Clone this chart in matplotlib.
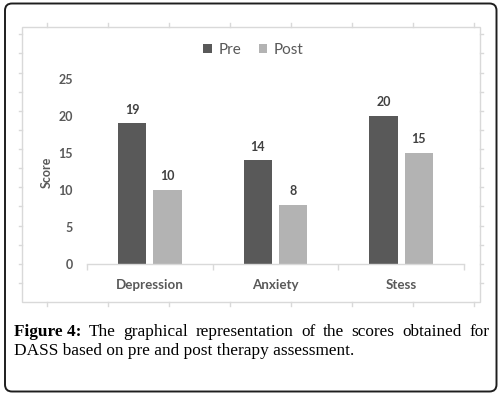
import matplotlib
matplotlib.use("Agg")
import matplotlib.pyplot as plt
import numpy as np
from matplotlib.patches import FancyBboxPatch, Rectangle

# ---- data ----
categories = ["Depression", "Anxiety", "Stess"]
pre = [19, 14, 20]
post = [10, 8, 15]
series_names = ["Pre", "Post"]
yticks = [0, 5, 10, 15, 20, 25]
ylabel = "Score"
caption_bold = "Figure 4:"
caption_line1 = "The graphical representation of the scores obtained for"
caption_line2 = "DASS based on pre and post therapy assessment."

W, H = 499, 395
DPI = 100
fig = plt.figure(figsize=(W / DPI, H / DPI), dpi=DPI)
fig.patch.set_facecolor("white")

# decoration layer in pixel coordinates
deco = fig.add_axes([0, 0, 1, 1], zorder=0)
deco.set_xlim(0, W)
deco.set_ylim(H, 0)
deco.axis("off")
deco.patch.set_alpha(0)

# outer rounded frame
deco.add_patch(FancyBboxPatch((5, 3.5), 491.5, 388, boxstyle="round,pad=0,rounding_size=7",
                              ec="#1e1e1e", fc="none", lw=1.4))
# inner chart frame
frame_col = "#d9d9d9"
deco.add_patch(Rectangle((22.3, 27), 457.4, 275, ec=frame_col, fc="none", lw=1.0))
# ruler-like tick marks around the chart frame
for xx in 47 + 61.0 * np.arange(8):
    deco.plot([xx, xx], [23, 27], color=frame_col, lw=1.0)
    deco.plot([xx, xx], [302, 306], color=frame_col, lw=1.0)
for yy in 34.3 + 19.13 * np.arange(14):
    deco.plot([19.5, 22.3], [yy, yy], color=frame_col, lw=1.0)
    deco.plot([479.7, 483], [yy, yy], color=frame_col, lw=1.0)

# ---- main chart ----
chart_font = "Lato"
label_col = "#595959"
ax = fig.add_axes([87 / W, 1 - 264 / H, (464 - 87) / W, (264 - 79) / H], zorder=2)
ax.patch.set_alpha(0)
x = np.arange(len(categories))
bw = 0.226
off = 0.141
b1 = ax.bar(x - off, pre, bw, color="#595959", label=series_names[0])
b2 = ax.bar(x + off, post, bw, color="#b3b3b3", label=series_names[1])
ax.set_xlim(-0.5, len(categories) - 0.5)
ax.set_ylim(0, 25)
for s in ["top", "right", "left"]:
    ax.spines[s].set_visible(False)
ax.spines["bottom"].set_color(frame_col)
ax.spines["bottom"].set_linewidth(1.0)
ax.set_yticks(yticks)
ax.set_yticklabels([str(v) for v in yticks], fontfamily=chart_font, fontweight="bold",
                   fontsize=9, color=label_col)
ax.tick_params(axis="y", length=0, pad=10)
ax.set_xticks(x)
ax.set_xticklabels(categories, fontfamily=chart_font, fontweight="bold", fontsize=9.6,
                   color=label_col)
ax.tick_params(axis="x", which="major", length=0, pad=10.5)
ax.set_xticks(np.arange(len(categories) + 1) - 0.5, minor=True)
ax.tick_params(axis="x", which="minor", length=4, color=frame_col, width=1.0)

for bars, vals in ((b1, pre), (b2, post)):
    for r, v in zip(bars, vals):
        ax.annotate(str(v), (r.get_x() + r.get_width() / 2, v), xytext=(0, 10),
                    textcoords="offset points", ha="center", va="center",
                    fontfamily=chart_font, fontweight="bold", fontsize=9, color="#404040")

ax.set_ylabel(ylabel, fontfamily=chart_font, fontweight="bold", fontsize=9, color=label_col)
ax.yaxis.label.set_va("center")
ax.yaxis.set_label_coords((47 - 87) / (464 - 87), (264 - 172) / (264 - 79))

leg = ax.legend(loc="center", bbox_to_anchor=(253.5 / W, 1 - 50 / H),
                bbox_transform=fig.transFigure, ncol=2, frameon=False,
                handlelength=0.55, handleheight=0.55, handletextpad=0.45,
                columnspacing=1.15, prop={"family": chart_font, "size": 11})
for t in leg.get_texts():
    t.set_color(label_col)

# ---- caption (justified first line) ----
serif = "Liberation Serif"
cap_size = 12.4
renderer = fig.canvas.get_renderer()
left_x, right_x = 14.0, 489.0
y1, y2 = 335.5, 355.0

words1 = [(caption_bold, "bold")] + [(w, "normal") for w in caption_line1.split()]
txts = []
widths = []
for w, wt in words1:
    t = deco.text(0, y1, w, fontfamily=serif, fontweight=wt, fontsize=cap_size,
                  color="black", ha="left", va="baseline")
    txts.append(t)
    widths.append(t.get_window_extent(renderer).width)
gap = (right_x - left_x - sum(widths)) / (len(words1) - 1)
cur = left_x
for t, wdt in zip(txts, widths):
    t.set_x(cur)
    cur += wdt + gap

deco.text(left_x, y2, caption_line2, fontfamily=serif, fontsize=cap_size,
          color="black", ha="left", va="baseline")

fig.savefig("out.png", dpi=DPI, facecolor="white")
